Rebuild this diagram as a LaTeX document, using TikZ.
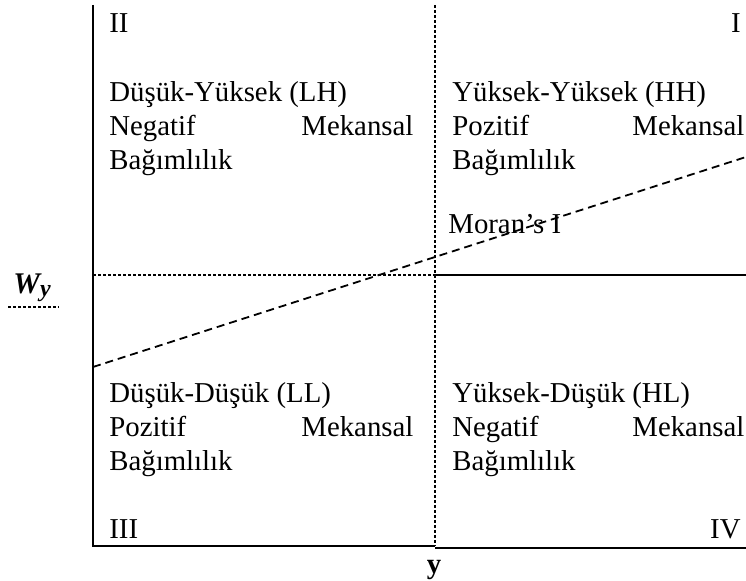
\documentclass[tikz,border=0pt]{standalone}
\usepackage{fontspec}
\setmainfont{Liberation Serif}
\usetikzlibrary{positioning}
\setlength{\parindent}{0pt}
\newcommand{\spreadline}[2]{\makebox[#1][s]{#2}}
\tikzset{
	quadtext/.style={anchor=north west, inner sep=0pt, align=left, font=\fontsize{14.4}{17}\selectfont},
	numeral/.style={inner sep=0pt, font=\fontsize{14.4}{17}\selectfont},
	axisline/.style={line width=1pt},
	finedash/.style={line width=0.9pt, dash pattern=on 1.5pt off 1pt},
	moranline/.style={line width=0.9pt, dash pattern=on 4pt off 2.5pt}
}

\begin{document}
\begin{tikzpicture}[x=0.5pt, y=-0.5pt]
		\useasboundingbox (0,0) rectangle (746,581);
		% kose noktalari
		\coordinate (tl) at (93,5);
		\coordinate (bl) at (93,546);
		\coordinate (tm) at (435,5);
		\coordinate (bm) at (435,546);
		\coordinate (br) at (746,548);
		\coordinate (ml) at (93,275);
		\coordinate (mm) at (435,275);
		\coordinate (mr) at (746,275);
		% eksenler
		\draw[axisline] (tl) -- (bl) -- (bm);
		\draw[axisline, line width=1.4pt] (bm |- br) -- (br);
		\draw[finedash] (tm) -- (bm);
		\draw[finedash] (ml) -- (mm);
		\draw[axisline] (mm) -- (mr);
		% Moran's I dogrusu
		\coordinate (mor1) at (93,367);
		\coordinate (mor2) at (746,157);
		\draw[moranline] (mor1) -- (mor2);
		\node[numeral, anchor=base west] (moran) at (448,234) {Moran’s I};
		% bolge numaralari
		\node[numeral, anchor=base west] (q2) at (109,33) {II};
		\node[numeral, anchor=base east] (q1) at (741,33) {I};
		\node[numeral, anchor=base west] (q3) at (109,539) {III};
		\node[numeral, anchor=base east] (q4) at (741,539) {IV};
		% bolge aciklamalari
		\node[quadtext] (lh) at (109,81) {Düşük-Yüksek (LH)\\\spreadline{152pt}{Negatif Mekansal}\\Bağımlılık};
		\node[quadtext] (hh) at (452,81) {Yüksek-Yüksek (HH)\\\spreadline{146pt}{Pozitif Mekansal}\\Bağımlılık};
		\node[quadtext] (ll) at (109,382) {Düşük-Düşük (LL)\\\spreadline{152pt}{Pozitif Mekansal}\\Bağımlılık};
		\node[quadtext] (hl) at (452,382) {Yüksek-Düşük (HL)\\\spreadline{146pt}{Negatif Mekansal}\\Bağımlılık};
		% eksen adlari
		\node[numeral, anchor=base, font=\fontsize{14.4}{17}\selectfont\bfseries] (ylab) at (434,574) {y};
		\node[numeral, anchor=base west, font=\fontsize{15}{17}\selectfont\bfseries\itshape] (wlab) at (13,294) {W\raisebox{-1.5pt}{\fontsize{12}{12}\selectfont y}};
		\coordinate (u1) at (8,307);
		\coordinate (u2) at (59,307);
		\draw[line width=0.7pt, dash pattern=on 1.5pt off 1pt] (u1) -- (u2);
	\end{tikzpicture}
\end{document}
